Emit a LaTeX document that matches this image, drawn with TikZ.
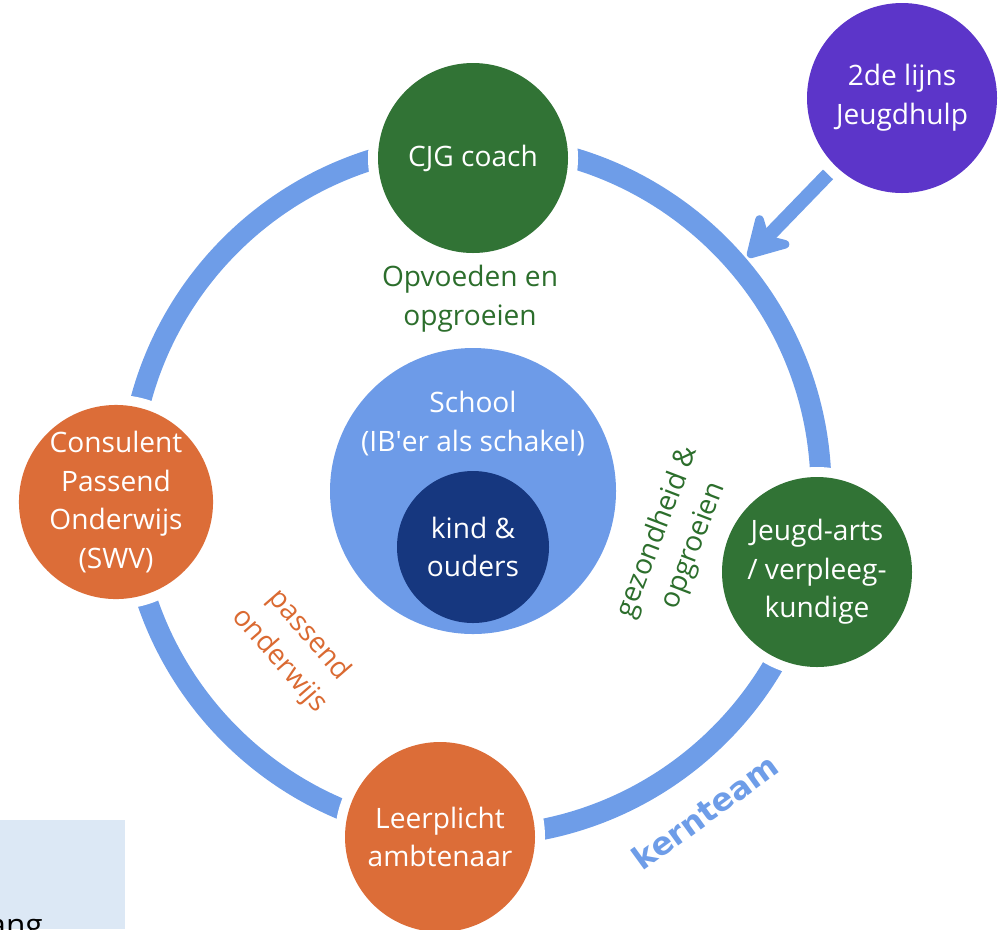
\documentclass[tikz,border=0pt]{standalone}
\usepackage{fontspec}
\setmainfont{Open Sans}
\newfontfamily\kernfont{DejaVu Sans}
\usetikzlibrary{arrows.meta}

\definecolor{ringblue}{HTML}{6E9DE8}
\definecolor{coachgreen}{HTML}{317335}
\definecolor{swvorange}{HTML}{DC6D38}
\definecolor{hulppurple}{HTML}{5C35C9}
\definecolor{kidnavy}{HTML}{16377F}
\definecolor{schoolblue}{HTML}{6D9BE8}
\definecolor{textgreen}{HTML}{2C6E2C}
\definecolor{textorange}{HTML}{DA6A32}
\definecolor{boxblue}{HTML}{DCE8F5}

\begin{document}
\begin{tikzpicture}[
    actor/.style={shape=circle, minimum size=3.8cm, inner sep=0pt, align=center, text=white, font=\fontsize{16}{22}\selectfont, preaction={draw=white, line width=0.4cm}},
    remark/.style={align=center, font=\fontsize{16}{22}\selectfont},
    feed/.style={ringblue, line width=0.28cm, shorten <=0.22cm, -{Stealth[length=1cm, width=1.15cm, inset=0.32cm, round]}}
]
    \useasboundingbox (0,0) rectangle (20.1,-18.58);
    \fill[boxblue] (0,-16.4) rectangle (2.5,-18.58);
    \node(gang)[remark, anchor=base east, font=\fontsize{18}{22}\selectfont] at (0.98,-18.72) {ang};

    \coordinate (ring) at (9.5,-9.8);
    \draw[ringblue, line width=0.42cm] (ring) circle (6.92cm);

    \node(cjg)[actor, fill=coachgreen] at (9.46,-3.16) {CJG coach};
    \node(swv)[actor, fill=swvorange] at (2.32,-10.04) {Consulent\\Passend\\Onderwijs\\(SWV)};
    \node(arts)[actor, fill=coachgreen] at (16.34,-11.44) {Jeugd-arts\\/ verpleeg-\\kundige};
    \node(leerplicht)[actor, fill=swvorange] at (8.8,-16.74) {Leerplicht\\ambtenaar};
    \node(lijn2)[actor, fill=hulppurple] at (18.04,-1.96) {2de lijns\\Jeugdhulp};

    \coordinate (hit) at (14.96,-5.14);
    \draw[feed] (lijn2) -- (hit);

    \node(school)[shape=circle, fill=schoolblue, minimum size=5.72cm] at (9.46,-9.82) {};
    \node(schooltext)[remark, text=white] at (9.46,-8.47) {School\\(IB\textquotesingle er als schakel)};
    \node(kind)[shape=circle, fill=kidnavy, minimum size=3.04cm, align=center, text=white, font=\fontsize{16}{22}\selectfont] at (9.46,-10.94) {kind \&\\ouders};

    \node(opvoeden)[remark, text=textgreen] at (9.4,-5.98) {Opvoeden en\\opgroeien};
    \node(gezond)[remark, text=textgreen, rotate=69] at (13.52,-10.78) {gezondheid \&\\opgroeien};
    \node(passend)[remark, text=textorange, rotate=-49] at (5.88,-12.96) {passend\\onderwijs};
    \node(kern)[text=ringblue, rotate=36, font=\kernfont\bfseries\fontsize{18}{22}\selectfont] at (14.1,-16.24) {kernteam};
\end{tikzpicture}
\end{document}
